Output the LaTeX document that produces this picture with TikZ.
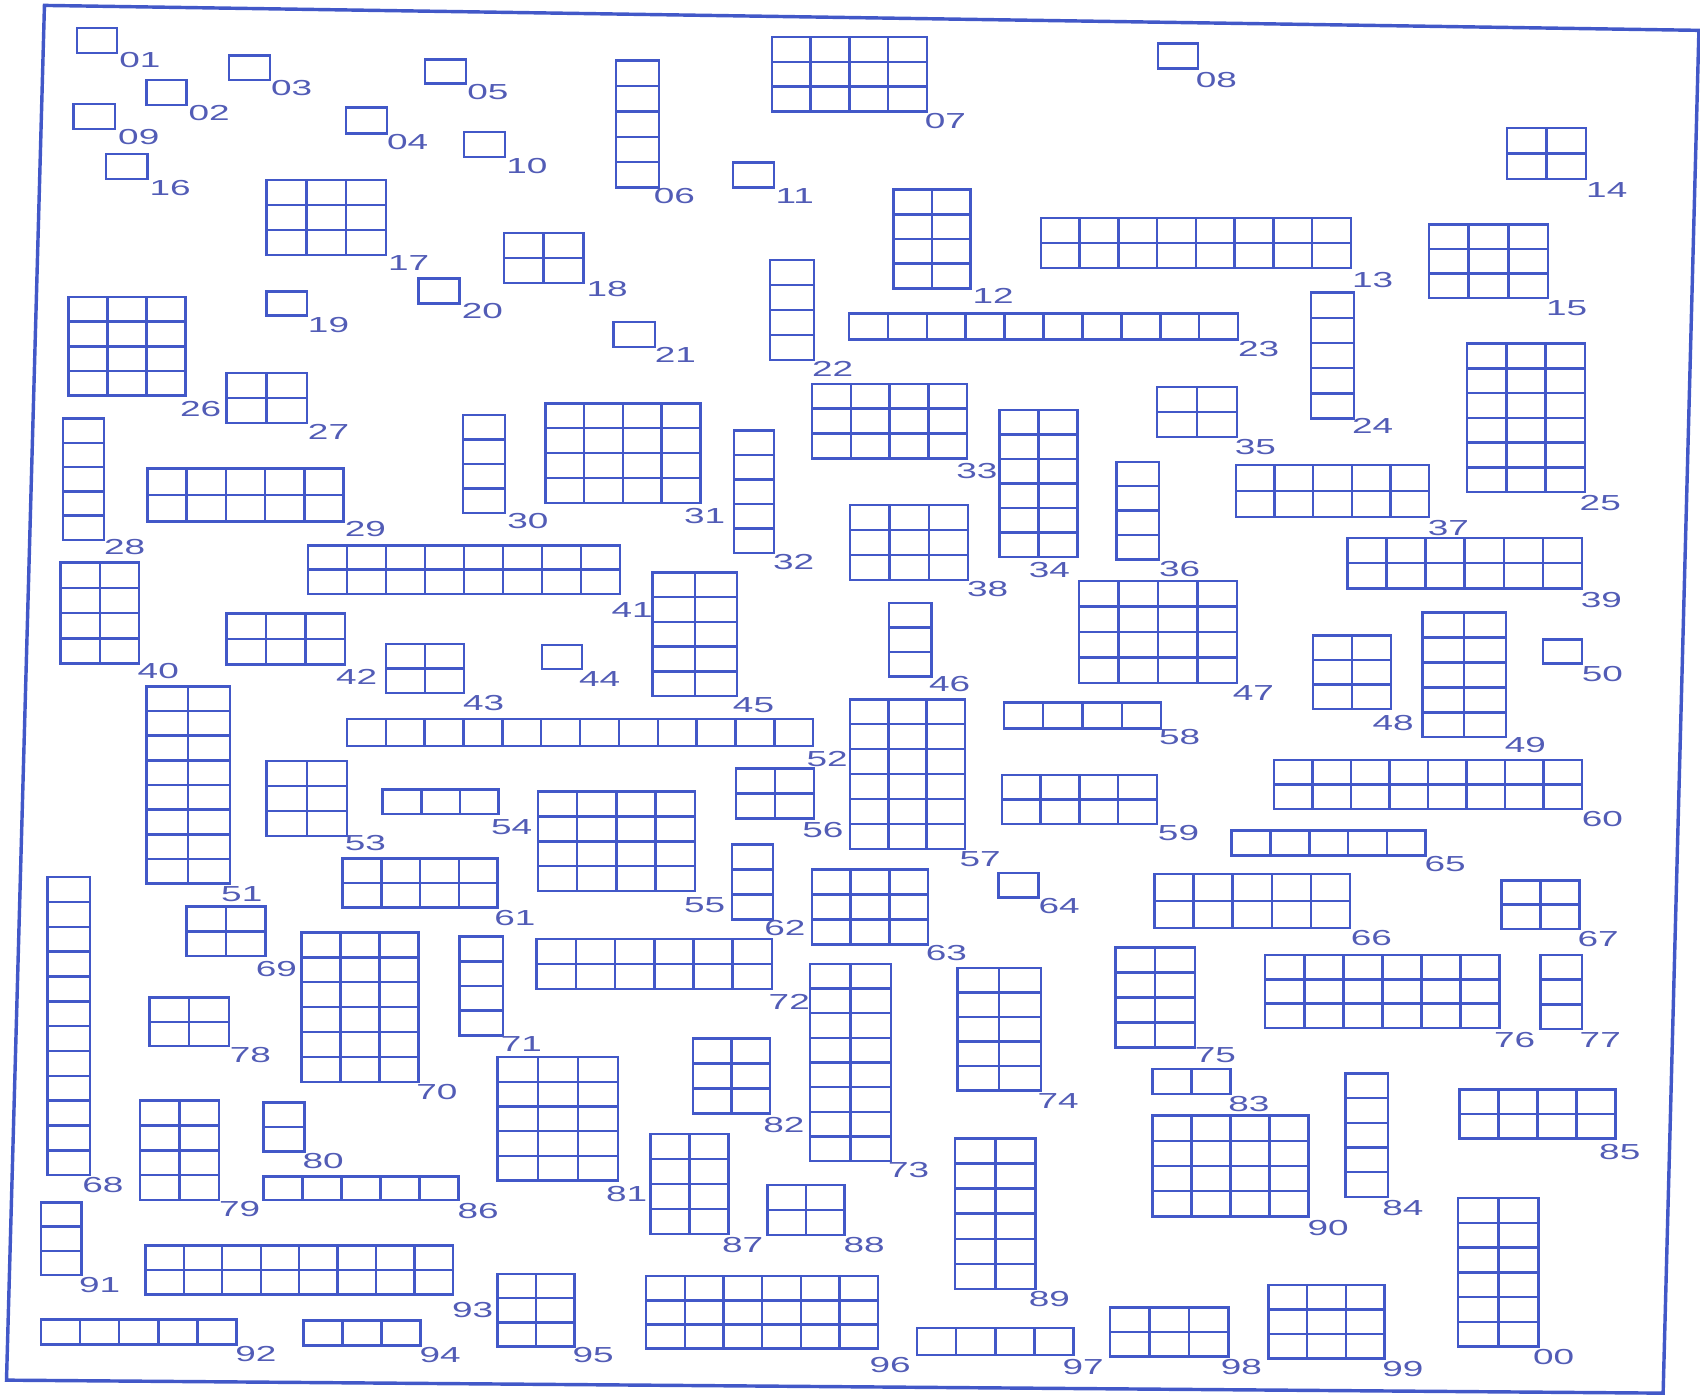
\documentclass[tikz,border=0pt]{standalone}
\usepackage{fontspec}
\newfontfamily\fuselabelfont{Liberation Sans}[FakeStretch=1.7]
\definecolor{fuseblue}{RGB}{66,88,200}
\definecolor{labelblue}{RGB}{82,92,182}
\tikzset{
  blk/.style={draw=fuseblue, line width=0.65pt},
  lbl/.style={text=labelblue, inner sep=0pt, font=\fuselabelfont\fontsize{5.7}{6}\selectfont},
  sheetframe/.style={draw=fuseblue, line width=0.9pt}
}
% corners x1 y1 x2 y2, cols, rows, number, label position
\newcommand{\fuseblk}[8]{%
  \pgfmathsetmacro{\fcw}{(#3-#1)/#5}%
  \pgfmathsetmacro{\fch}{(#4-#2)/#6}%
  \foreach \i in {1,...,#5}{%
    \foreach \j in {1,...,#6}{%
      \draw[blk] ({#1+(\i-1)*\fcw},{#2+(\j-1)*\fch}) rectangle ++(\fcw,\fch);
    }%
  }%
  \node[lbl] (f#7) at (#8) {#7};
}

\begin{document}
\begin{tikzpicture}[x=0.01cm, y=-0.01cm]
    \useasboundingbox (0,0) rectangle (1568,1289);
    \draw[sheetframe] (41,5) -- (1567,28) -- (1534,1285) -- (6,1273) -- cycle;

    \fuseblk{71}{26}{108}{49}{1}{1}{01}{129,55}
    \fuseblk{135}{74}{172}{97}{1}{1}{02}{193,104}
    \fuseblk{211}{51}{249}{74}{1}{1}{03}{269,81}
    \fuseblk{319}{99}{357}{123}{1}{1}{04}{376,131}
    \fuseblk{392}{55}{430}{77}{1}{1}{05}{450,85}
    \fuseblk{568}{56}{608}{173}{1}{5}{06}{622,181}
    \fuseblk{712}{34}{855}{103}{4}{3}{07}{872,112}
    \fuseblk{1068}{40}{1105}{63}{1}{1}{08}{1122,74}
    \fuseblk{68}{96}{106}{119}{1}{1}{09}{128,126}
    \fuseblk{428}{122}{466}{145}{1}{1}{10}{486,153}
    \fuseblk{676}{150}{714}{173}{1}{1}{11}{733,181}
    \fuseblk{824}{175}{895}{266}{2}{4}{12}{916,273}
    \fuseblk{960}{201}{1246}{247}{8}{2}{13}{1266,258}
    \fuseblk{1390}{118}{1463}{165}{2}{2}{14}{1482,175}
    \fuseblk{1318}{207}{1428}{275}{3}{3}{15}{1445,284}
    \fuseblk{98}{142}{136}{165}{1}{1}{16}{157,173}
    \fuseblk{246}{166}{356}{235}{3}{3}{17}{377,243}
    \fuseblk{465}{215}{538}{261}{2}{2}{18}{560,267}
    \fuseblk{246}{269}{283}{291}{1}{1}{19}{303,300}
    \fuseblk{386}{257}{424}{280}{1}{1}{20}{445,287}
    \fuseblk{566}{297}{604}{320}{1}{1}{21}{623,327}
    \fuseblk{710}{240}{751}{332}{1}{4}{22}{768,340}
    \fuseblk{783}{289}{1142}{313}{10}{1}{23}{1161,322}
    \fuseblk{1209}{270}{1249}{386}{1}{5}{24}{1266,393}
    \fuseblk{1353}{317}{1462}{454}{3}{6}{25}{1476,464}
    \fuseblk{63}{274}{171}{365}{3}{4}{26}{185,377}
    \fuseblk{209}{344}{283}{390}{2}{2}{27}{303,398}
    \fuseblk{58}{386}{96}{498}{1}{5}{28}{115,505}
    \fuseblk{136}{432}{317}{481}{5}{2}{29}{337,488}
    \fuseblk{427}{383}{466}{473}{1}{4}{30}{487,481}
    \fuseblk{503}{372}{646}{464}{4}{4}{31}{650,476}
    \fuseblk{677}{397}{714}{510}{1}{5}{32}{732,518}
    \fuseblk{749}{354}{892}{423}{4}{3}{33}{901,434}
    \fuseblk{922}{378}{994}{514}{2}{6}{34}{968,526}
    \fuseblk{1067}{357}{1141}{403}{2}{2}{35}{1158,412}
    \fuseblk{1030}{426}{1069}{516}{1}{4}{36}{1088,525}
    \fuseblk{1140}{429}{1318}{477}{5}{2}{37}{1336,487}
    \fuseblk{784}{466}{893}{535}{3}{3}{38}{911,543}
    \fuseblk{1243}{496}{1459}{543}{6}{2}{39}{1477,553}
    \fuseblk{56}{519}{128}{612}{2}{4}{40}{146,619}
    \fuseblk{284}{503}{572}{548}{8}{2}{41}{583,563}
    \fuseblk{209}{566}{318}{613}{3}{2}{42}{329,624}
    \fuseblk{356}{594}{428}{639}{2}{2}{43}{446,648}
    \fuseblk{500}{595}{537}{617}{1}{1}{44}{553,626}
    \fuseblk{602}{528}{680}{642}{2}{5}{45}{695,650}
    \fuseblk{820}{556}{859}{624}{1}{3}{46}{876,631}
    \fuseblk{995}{536}{1141}{630}{4}{4}{47}{1156,639}
    \fuseblk{1211}{586}{1283}{654}{2}{3}{48}{1285,667}
    \fuseblk{1312}{565}{1389}{680}{2}{5}{49}{1407,687}
    \fuseblk{1423}{590}{1459}{612}{1}{1}{50}{1478,622}
    \fuseblk{135}{633}{212}{815}{2}{8}{51}{223,825}
    \fuseblk{320}{663}{750}{688}{12}{1}{52}{763,700}
    \fuseblk{246}{702}{320}{771}{2}{3}{53}{337,778}
    \fuseblk{353}{728}{460}{751}{3}{1}{54}{472,763}
    \fuseblk{496}{730}{641}{822}{4}{4}{55}{650,835}
    \fuseblk{679}{709}{751}{755}{2}{2}{56}{759,766}
    \fuseblk{784}{645}{890}{783}{3}{6}{57}{904,792}
    \fuseblk{926}{648}{1071}{672}{4}{1}{58}{1088,680}
    \fuseblk{924}{715}{1067}{760}{4}{2}{59}{1087,768}
    \fuseblk{1175}{701}{1459}{746}{8}{2}{60}{1478,755}
    \fuseblk{316}{792}{459}{837}{4}{2}{61}{475,847}
    \fuseblk{675}{779}{713}{848}{1}{3}{62}{724,856}
    \fuseblk{749}{802}{856}{871}{3}{3}{63}{873,879}
    \fuseblk{921}{805}{958}{828}{1}{1}{64}{977,836}
    \fuseblk{1136}{766}{1315}{789}{5}{1}{65}{1333,797}
    \fuseblk{1065}{806}{1245}{856}{5}{2}{66}{1265,865}
    \fuseblk{1385}{812}{1457}{857}{2}{2}{67}{1474,866}
    \fuseblk{44}{809}{83}{1084}{1}{12}{68}{95,1093}
    \fuseblk{172}{836}{245}{882}{2}{2}{69}{255,894}
    \fuseblk{278}{860}{386}{998}{3}{6}{70}{403,1007}
    \fuseblk{424}{864}{464}{955}{1}{4}{71}{481,963}
    \fuseblk{495}{866}{712}{912}{6}{2}{72}{728,924}
    \fuseblk{747}{889}{822}{1071}{2}{8}{73}{838,1079}
    \fuseblk{883}{893}{960}{1006}{2}{5}{74}{976,1016}
    \fuseblk{1029}{874}{1102}{966}{2}{4}{75}{1121,973}
    \fuseblk{1167}{881}{1383}{948}{6}{3}{76}{1397,959}
    \fuseblk{1421}{881}{1459}{949}{1}{3}{77}{1476,959}
    \fuseblk{138}{920}{211}{965}{2}{2}{78}{231,973}
    \fuseblk{129}{1015}{202}{1107}{2}{4}{79}{221,1115}
    \fuseblk{243}{1017}{281}{1062}{1}{2}{80}{298,1071}
    \fuseblk{459}{975}{570}{1089}{3}{5}{81}{578,1101}
    \fuseblk{639}{958}{710}{1027}{2}{3}{82}{723,1038}
    \fuseblk{1063}{986}{1135}{1009}{2}{1}{83}{1152,1018}
    \fuseblk{1241}{990}{1280}{1104}{1}{5}{84}{1294,1114}
    \fuseblk{1346}{1005}{1490}{1050}{4}{2}{85}{1494,1063}
    \fuseblk{243}{1085}{423}{1107}{5}{1}{86}{441,1117}
    \fuseblk{600}{1046}{672}{1138}{2}{4}{87}{685,1148}
    \fuseblk{708}{1093}{779}{1139}{2}{2}{88}{797,1148}
    \fuseblk{881}{1050}{955}{1189}{2}{6}{89}{968,1198}
    \fuseblk{1063}{1029}{1207}{1122}{4}{4}{90}{1225,1133}
    \fuseblk{38}{1109}{75}{1176}{1}{3}{91}{92,1185}
    \fuseblk{38}{1217}{218}{1240}{5}{1}{92}{236,1249}
    \fuseblk{134}{1149}{418}{1194}{8}{2}{93}{436,1208}
    \fuseblk{280}{1218}{388}{1241}{3}{1}{94}{406,1250}
    \fuseblk{459}{1175}{530}{1242}{2}{3}{95}{547,1250}
    \fuseblk{596}{1177}{810}{1244}{6}{3}{96}{821,1259}
    \fuseblk{846}{1225}{990}{1250}{4}{1}{97}{999,1261}
    \fuseblk{1024}{1206}{1133}{1251}{3}{2}{98}{1145,1261}
    \fuseblk{1170}{1185}{1277}{1253}{3}{3}{99}{1294,1263}
    \fuseblk{1345}{1105}{1419}{1242}{2}{6}{00}{1433,1252}
\end{tikzpicture}
\end{document}
